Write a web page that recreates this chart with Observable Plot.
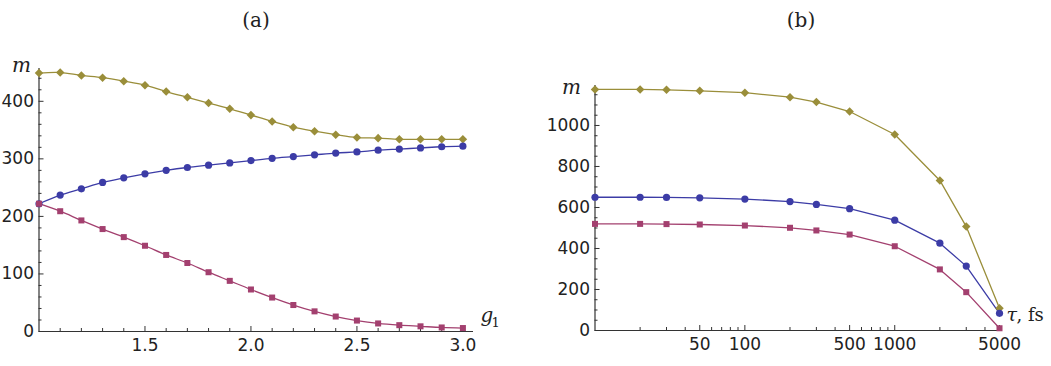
<!DOCTYPE html>
<html><head><meta charset="utf-8">
<script src="https://cdn.jsdelivr.net/npm/d3@7"></script>
<script src="https://cdn.jsdelivr.net/npm/@observablehq/plot@0.6"></script>
<style>
body{margin:0;background:#fff;}
#wrap{position:relative;width:1051px;height:366px;overflow:hidden;background:#fff;}
.panel{position:absolute;top:0;}
.ttl{position:absolute;top:8px;font-family:"DejaVu Serif",serif;font-size:20px;color:#222;transform:translateX(-50%);}
</style></head><body>
<div id="wrap"></div>
<script>
// ---------- Panel (a) data ----------
const g1 = [1.0,1.1,1.2,1.3,1.4,1.5,1.6,1.7,1.8,1.9,2.0,2.1,2.2,2.3,2.4,2.5,2.6,2.7,2.8,2.9,3.0];
const aGold = [449,450,445,441,435,428,417,407,397,387,376,365,355,348,342,337,336,334,334,334,334];
const aBlue = [222,237,248,259,267,274,280,285,289,293,297,301,304,307,310,312,315,317,319,321,322];
const aRed  = [222,209,193,178,164,149,133,119,103,88,73,59,46,35,26,19,14,11,9,7,6];
const aXTicks = [1.5,2.0,2.5,3.0];
const aXMinor = [1.1,1.2,1.3,1.4,1.6,1.7,1.8,1.9,2.1,2.2,2.3,2.4,2.6,2.7,2.8,2.9];
const aYTicks = [0,100,200,300,400];
const aYMinor = [20,40,60,80,120,140,160,180,220,240,260,280,320,340,360,380,420,440];

// ---------- Panel (b) data ----------
const tau = [10,20,30,50,100,200,300,500,1000,2000,3000,5000];
const bGold = [1176,1176,1174,1169,1160,1138,1114,1068,956,732,507,108];
const bBlue = [650,650,649,647,641,629,615,594,538,426,314,84];
const bRed  = [520,520,519,517,512,501,488,468,411,298,187,11];
const bXTicks = [50,100,500,1000,5000];
const bXMinor = [20,30,40,60,70,80,90,200,300,400,600,700,800,900,2000,3000,4000];
const bYTicks = [0,200,400,600,800,1000];
const bYMinor = [50,100,150,250,300,350,450,500,550,650,700,750,850,900,950,1050,1100,1150];

const colors = {gold: "#9a8e3a", blue: "#3c3ca6", red: "#a3406f"};
const axisColor = "#333";
const SANS = "DejaVu Sans, sans-serif";
const SERIF = "DejaVu Serif, serif";

function rows(xs, vs) { return xs.map((x, i) => ({x, v: vs[i]})); }

function panel(o) {
  const x0 = o.xDomain[0];
  const gold = rows(o.xs, o.gold), blue = rows(o.xs, o.blue), red = rows(o.xs, o.red);
  const lineOpts = {x: "x", y: "v", strokeWidth: 1.3, curve: o.curve};
  return Plot.plot({
    width: o.width, height: 366,
    marginLeft: o.ml, marginRight: o.mr, marginTop: o.mt, marginBottom: o.mb,
    style: {fontFamily: SANS, fontSize: "17px", color: "#222", background: "transparent", overflow: "visible"},
    x: {type: o.xType, domain: o.xDomain, axis: null},
    y: {domain: o.yDomain, ticks: o.yTicks, tickFormat: d => String(d), tickSize: 0, tickPadding: 5, label: null},
    marks: [
      Plot.ruleY([0], {stroke: axisColor, strokeWidth: 1.2}),
      Plot.ruleX([x0], {stroke: axisColor, strokeWidth: 1.2}),
      Plot.ruleX(o.xTicks, {x: d => d, y1: 0, y2: 0, insetTop: -5, stroke: axisColor}),
      Plot.ruleX(o.xMinor, {x: d => d, y1: 0, y2: 0, insetTop: -3, stroke: axisColor}),
      Plot.ruleY(o.yTicks, {y: d => d, x1: x0, x2: x0, insetRight: -5, stroke: axisColor}),
      Plot.ruleY(o.yMinor, {y: d => d, x1: x0, x2: x0, insetRight: -3, stroke: axisColor}),
      Plot.text(o.xTicks, {x: d => d, text: o.xFormat, frameAnchor: "bottom", lineAnchor: "top", dy: 7, fontFamily: SANS, fontSize: 17, fill: "#222"}),
      Plot.line(gold, {...lineOpts, stroke: colors.gold}),
      Plot.line(blue, {...lineOpts, stroke: colors.blue}),
      Plot.line(red, {...lineOpts, stroke: colors.red}),
      Plot.dot(gold, {x: "x", y: "v", symbol: "square", rotate: 45, r: 3.4, fill: colors.gold}),
      Plot.dot(blue, {x: "x", y: "v", symbol: "circle", r: 3.6, fill: colors.blue}),
      Plot.dot(red, {x: "x", y: "v", symbol: "square", r: 3.4, fill: colors.red}),
      Plot.text(["m"], {frameAnchor: "top-left", textAnchor: "end", dx: o.mDx, dy: o.mDy, fontFamily: SERIF, fontStyle: "italic", fontSize: 20, fill: "#222"}),
      ...o.xLabel.map(t => Plot.text([t.text], {frameAnchor: "bottom-right", textAnchor: "start", dx: t.dx, dy: t.dy, fontFamily: SERIF, fontStyle: t.italic ? "italic" : "normal", fontSize: t.fs, fill: "#222"}))
    ]
  });
}

const wrap = document.getElementById("wrap");

const pa = panel({
  width: 525, ml: 38.5, mr: 52, mt: 68, mb: 35,
  xs: g1, gold: aGold, blue: aBlue, red: aRed, curve: "catmull-rom",
  xType: "linear", xDomain: [1, 3.05], xTicks: aXTicks, xMinor: aXMinor, xFormat: d3.format(".1f"),
  yDomain: [0, 457], yTicks: aYTicks, yMinor: aYMinor,
  mDx: -8, mDy: -11,
  xLabel: [{text: "g", italic: true, fs: 20, dx: 7, dy: -10}, {text: "1", italic: false, fs: 13, dx: 18, dy: -5}]
});
pa.classList.add("panel"); pa.style.left = "0px";
wrap.appendChild(pa);

const pb = panel({
  width: 526, ml: 69.5, mr: 52, mt: 85, mb: 36,
  xs: tau, gold: bGold, blue: bBlue, red: bRed, curve: "linear",
  xType: "log", xDomain: [10, 5000], xTicks: bXTicks, xMinor: bXMinor, xFormat: d => String(d),
  yDomain: [0, 1195], yTicks: bYTicks, yMinor: bYMinor,
  mDx: -14, mDy: -6,
  xLabel: [{text: "τ", italic: true, fs: 19, dx: 7, dy: -10}, {text: ", fs", italic: false, fs: 18, dx: 17, dy: -10}]
});
pb.classList.add("panel"); pb.style.left = "525px";
wrap.appendChild(pb);

for (const [t, x] of [["(a)", 256], ["(b)", 801]]) {
  const d = document.createElement("div");
  d.className = "ttl"; d.textContent = t; d.style.left = x + "px";
  wrap.appendChild(d);
}
</script>
</body></html>
